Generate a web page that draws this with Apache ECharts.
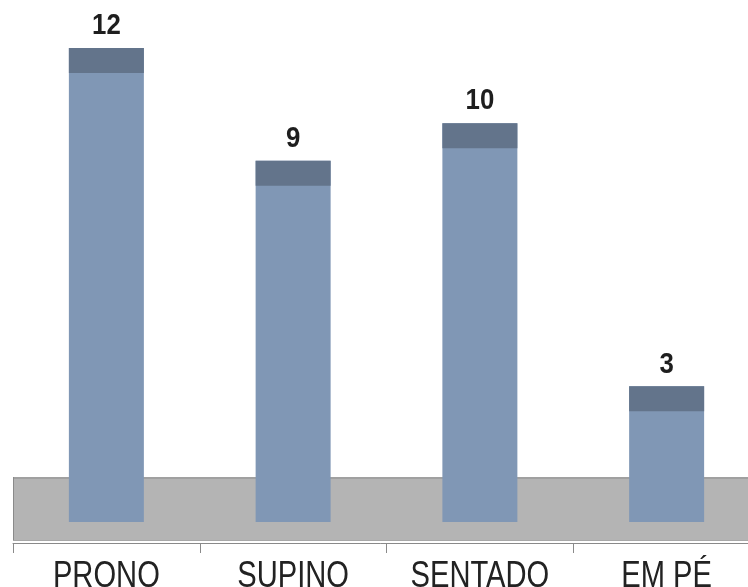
<!DOCTYPE html>
<html>
<head>
<meta charset="utf-8">
<script src="https://cdn.jsdelivr.net/npm/echarts@6/dist/echarts.min.js"></script>
<style>
html,body{margin:0;padding:0;background:#fff;overflow:hidden;}
#chart{width:748px;height:587px;}
</style>
</head>
<body>
<div id="chart"></div>
<script>
var categories = ['PRONO', 'SUPINO', 'SENTADO', 'EM PÉ'];
var values = [12, 9, 10, 3];

var FONT = "'Liberation Sans', Arial, sans-serif";
var chart = echarts.init(document.getElementById('chart'), null, {renderer: 'canvas'});

var barData = values.map(function (v, i) { return [i, v]; });

chart.setOption({
  animation: false,
  backgroundColor: '#ffffff',
  grid: {left: 13, width: 747, top: 48, height: 451, outerBoundsMode: 'none', containLabel: false},
  xAxis: {
    type: 'category',
    data: categories,
    offset: 44,
    z: 10,
    axisLine: {show: true, onZero: false, lineStyle: {color: '#8a8a8a', width: 1}},
    axisTick: {show: true, length: 10, lineStyle: {color: '#8a8a8a'}},
    axisLabel: {show: false}
  },
  yAxis: {
    type: 'value', min: 0, max: 12, show: false,
    splitLine: {show: false}
  },
  series: [
    {
      type: 'custom',
      z: 1,
      data: [[0, 0]],
      renderItem: function (params, api) {
        var cs = params.coordSys;
        var zeroY = api.coord([0, 0])[1];
        var top = zeroY - 22, bottom = zeroY + 42;
        return {
          type: 'group',
          children: [
            {type: 'rect', shape: {x: cs.x, y: top, width: cs.width, height: bottom - top},
             style: {fill: '#b4b4b4'}},
            {type: 'line', shape: {x1: cs.x, y1: top + 1, x2: cs.x + cs.width, y2: top + 1},
             style: {stroke: '#a0a0a0', lineWidth: 2}},
            {type: 'line', shape: {x1: cs.x + 0.5, y1: top, x2: cs.x + 0.5, y2: bottom},
             style: {stroke: '#8a8a8a', lineWidth: 1}},
            {type: 'line', shape: {x1: cs.x, y1: bottom - 0.5, x2: cs.x + cs.width, y2: bottom - 0.5},
             style: {stroke: '#a8a8a8', lineWidth: 1}}
          ]
        };
      }
    },
    {
      type: 'custom',
      z: 2,
      data: barData,
      renderItem: function (params, api) {
        var i = api.value(0), v = api.value(1);
        var topPt = api.coord([i, v]);
        var zeroPt = api.coord([i, 0]);
        var w = 75;
        var x = topPt[0] - w / 2;
        var bottom = zeroPt[1] + 23;
        var cap = 25;
        return {
          type: 'group',
          children: [
            {type: 'rect', shape: {x: x, y: topPt[1], width: w, height: bottom - topPt[1]},
             style: {fill: '#8097b5'}},
            {type: 'rect', shape: {x: x, y: topPt[1], width: w, height: cap},
             style: {fill: '#63748b'}},
            {type: 'text', x: topPt[0], y: topPt[1] - 22, scaleX: 0.86,
             style: {text: String(v), fill: '#1e1e1e', font: 'bold 30px ' + FONT,
                     x: 0, y: 0, align: 'center', verticalAlign: 'middle'}},
            {type: 'text', x: topPt[0], y: zeroPt[1] + 78, scaleX: 0.81,
             style: {text: categories[i], fill: '#222222', font: '36px ' + FONT,
                     x: 0, y: 0, align: 'center', verticalAlign: 'middle'}}
          ]
        };
      }
    }
  ]
});
</script>
</body>
</html>
